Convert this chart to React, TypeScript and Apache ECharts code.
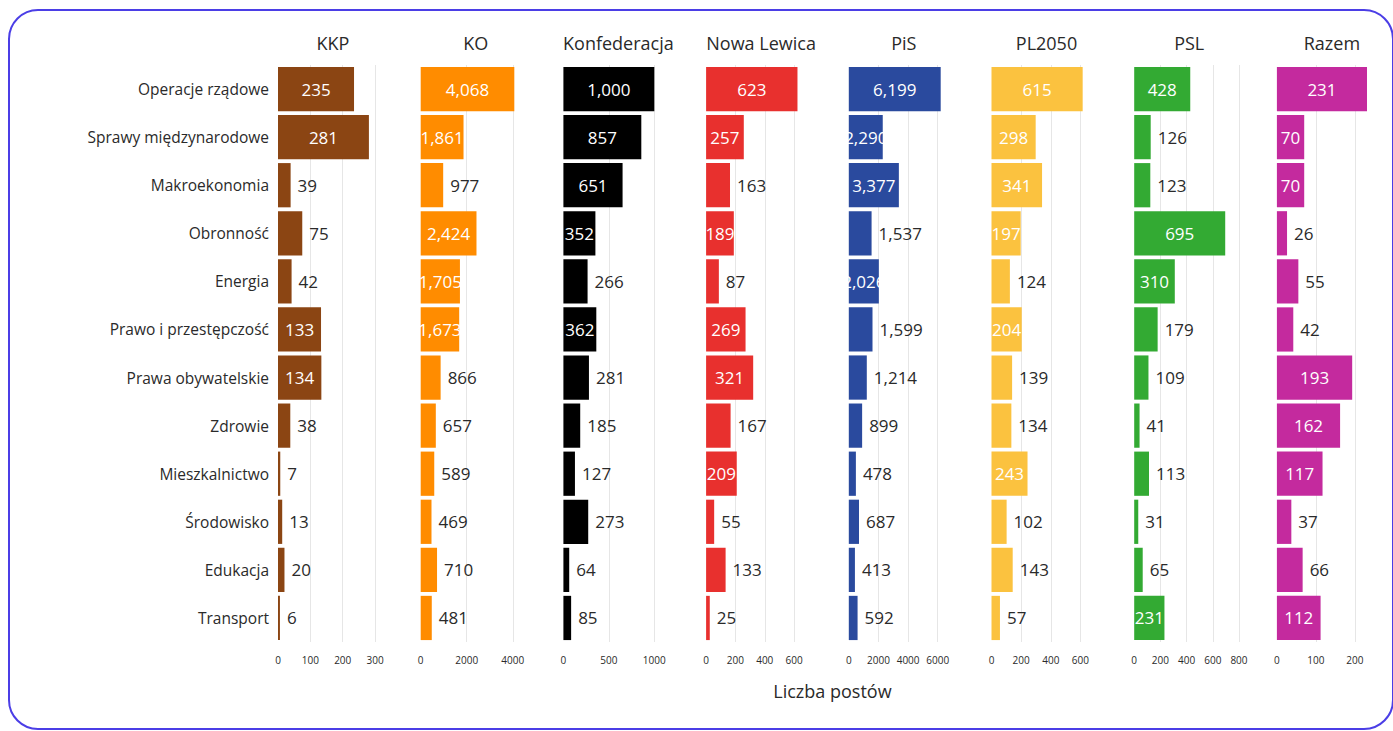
import React, { useEffect, useRef } from "react";
import * as echarts from "echarts";

const categories = [
  "Operacje rządowe",
  "Sprawy międzynarodowe",
  "Makroekonomia",
  "Obronność",
  "Energia",
  "Prawo i przestępczość",
  "Prawa obywatelskie",
  "Zdrowie",
  "Mieszkalnictwo",
  "Środowisko",
  "Edukacja",
  "Transport",
];

const parties = ["KKP", "KO", "Konfederacja", "Nowa Lewica", "PiS", "PL2050", "PSL", "Razem"];

const kkp = [235, 281, 39, 75, 42, 133, 134, 38, 7, 13, 20, 6];
const ko = [4068, 1861, 977, 2424, 1705, 1673, 866, 657, 589, 469, 710, 481];
const konfederacja = [1000, 857, 651, 352, 266, 362, 281, 185, 127, 273, 64, 85];
const nowaLewica = [623, 257, 163, 189, 87, 269, 321, 167, 209, 55, 133, 25];
const pis = [6199, 2290, 3377, 1537, 2026, 1599, 1214, 899, 478, 687, 413, 592];
const pl2050 = [615, 298, 341, 197, 124, 204, 139, 134, 243, 102, 143, 57];
const psl = [428, 126, 123, 695, 310, 179, 109, 41, 113, 31, 65, 231];
const razem = [231, 70, 70, 26, 55, 42, 193, 162, 117, 37, 66, 112];

const seriesValues = [kkp, ko, konfederacja, nowaLewica, pis, pl2050, psl, razem];

const axisMax = [340, 4780, 1210, 750, 7420, 742, 840, 282];
const axisStep = [100, 2000, 500, 200, 2000, 200, 200, 100];

const colors = ["#8B4513", "#FF8C00", "#000000", "#E8302E", "#2A4A9E", "#FBC23F", "#33AA33", "#C42A9E"];

const FONT = "'Open Sans', 'Noto Sans', sans-serif";
const PANEL_LEFT = 278;
const PANEL_STEP = 142.7;
const PANEL_W = 110;
const GRID_TOP = 65;
const GRID_H = 577;

export default function App() {
  const ref = useRef<HTMLDivElement>(null);

  useEffect(() => {
    if (!ref.current) return;
    const chart = echarts.init(ref.current, null, { renderer: "svg" });

    const grid: any[] = [];
    const xAxis: any[] = [];
    const yAxis: any[] = [];
    const series: any[] = [];
    const graphic: any[] = [];

    parties.forEach((p, i) => {
      const left = PANEL_LEFT + i * PANEL_STEP;
      grid.push({ left, top: GRID_TOP, width: PANEL_W, height: GRID_H, containLabel: false });
      xAxis.push({
        type: "value",
        gridIndex: i,
        min: 0,
        max: axisMax[i],
        interval: axisStep[i],
        axisLine: { show: false },
        axisTick: { show: false },
        splitLine: { show: true, showMinLine: false, showMaxLine: false, lineStyle: { color: "#e6e6e6", width: 1 } },
        axisLabel: {
          fontSize: 10,
          color: "#2a2a2a",
          margin: 13,
          fontFamily: FONT,
          showMaxLabel: false,
          formatter: (v: number) => String(v),
        },
      });
      yAxis.push({
        type: "category",
        gridIndex: i,
        data: categories,
        inverse: true,
        axisLine: { show: false },
        axisTick: { show: false },
        splitLine: { show: false },
        axisLabel: {
          show: i === 0,
          fontSize: 15.5,
          color: "#2a2a2a",
          margin: 9,
          fontFamily: FONT,
        },
      });
      const pxPerUnit = PANEL_W / axisMax[i];
      series.push({
        type: "bar",
        name: p,
        xAxisIndex: i,
        yAxisIndex: i,
        barCategoryGap: "8%",
        itemStyle: { color: colors[i] },
        data: seriesValues[i].map((v) => {
          const inside = v * pxPerUnit >= 26.5;
          return {
            value: v,
            label: inside
              ? { position: "inside", color: "#ffffff" }
              : { position: "right", color: "#2a2a2a", distance: 7 },
          };
        }),
        label: {
          show: true,
          fontSize: 17,
          fontFamily: FONT,
          formatter: (d: any) => Number(d.value).toLocaleString("en-US"),
        },
      });
      graphic.push({
        type: "text",
        x: left + PANEL_W / 2,
        y: 43,
        style: {
          text: p,
          align: "center",
          verticalAlign: "middle",
          textAlign: "center",
          textVerticalAlign: "middle",
          fontSize: 18,
          fontFamily: FONT,
          fill: "#2a2a2a",
        },
      });
    });

    graphic.push({
      type: "text",
      x: PANEL_LEFT + (7 * PANEL_STEP + PANEL_W) / 2,
      y: 691,
      style: {
        text: "Liczba postów",
        align: "center",
        verticalAlign: "middle",
        textAlign: "center",
        textVerticalAlign: "middle",
        fontSize: 18,
        fontFamily: FONT,
        fill: "#2a2a2a",
      },
    });

    chart.setOption({
      animation: false,
      backgroundColor: "#ffffff",
      grid,
      xAxis,
      yAxis,
      series,
      graphic,
    });

    return () => chart.dispose();
  }, []);

  return (
    <div style={{ position: "fixed", left: 0, top: 0, width: 1393, height: 731, background: "#fff", overflow: "hidden" }}>
      <div ref={ref} style={{ position: "absolute", left: 0, top: 0, width: 1393, height: 731 }} />
      <div
        style={{
          position: "absolute",
          left: 8,
          top: 9,
          width: 1386,
          height: 721,
          boxSizing: "border-box",
          border: "2.5px solid #4B3EE6",
          borderRadius: 30,
          pointerEvents: "none",
        }}
      />
    </div>
  );
}
